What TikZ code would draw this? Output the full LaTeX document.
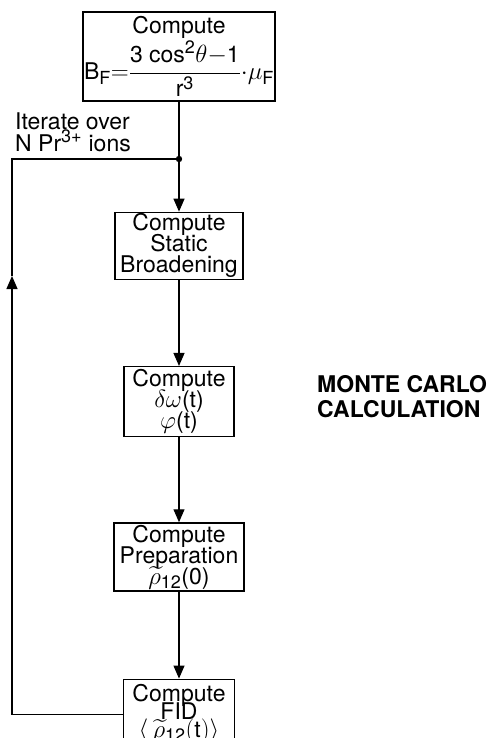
\documentclass[tikz,border=0pt]{standalone}
\usepackage{amsmath}
\usepackage{fontspec}
\setmainfont{TeX Gyre Heros}
\DeclareMathSizes{23}{23}{18}{14}
\usetikzlibrary{arrows.meta,positioning}
\newcommand\tightlines{\lineskiplimit=-20pt\relax}

\begin{document}
\begin{tikzpicture}[x=1pt, y=-1pt,
    node distance=86pt,
    proc/.style={draw, rectangle, line width=1.3pt, align=center,
                 inner sep=1pt, font={\fontsize{23}{21}\selectfont\tightlines}},
    arr/.style={-{Triangle[length=13pt,width=11pt]}, line width=1.2pt},
    loopline/.style={line width=1.2pt},
  ]
    \useasboundingbox (0,0) rectangle (490,738);

    \node[proc, minimum width=182pt, minimum height=89pt] (A) at (179,56.5)
      {Compute\\[1pt]
       $\text{B}_{\text{F}}{=}\dfrac{\text{3 cos}^{\text{2}}\theta{-}\text{1}}{\text{r}^{\text{3}}}{\cdot}\mu_{\text{F}}$};
    \node[proc, minimum width=128pt, minimum height=67pt, below=110pt of A] (B)
      {Compute\\Static\\Broadening};
    \node[proc, minimum width=110pt, minimum height=70pt, below=of B] (C)
      {Compute\\$\delta\omega$(t)\\$\varphi$(t)};
    \node[proc, minimum width=130pt, minimum height=68pt, below=85pt of C] (D)
      {Compute\\Preparation\\$\widetilde{\rho}_{\text{12}}$(0)};
    \node[proc, minimum width=111pt, minimum height=70pt, below=87pt of D,
          font={\fontsize{23}{18}\selectfont\tightlines}] (E)
      {Compute\\FID\\$\langle\,\widetilde{\rho}_{\text{12}}(\text{t})\rangle$};

    \node[anchor=west, align=left, inner sep=0pt,
          font={\fontsize{23}{22}\selectfont\tightlines}] (it) at (15,132)
      {Iterate over\\N Pr$^{\text{3+}}$ ions};
    \node[anchor=west, align=left, inner sep=0pt,
          font=\fontsize{23}{25}\bfseries] (mc) at (317,397)
      {MONTE CARLO\\CALCULATION};

    \coordinate (J) at (A.south |- 0,159);
    \coordinate (L) at (12,159);
    \coordinate (M) at (12,276);

    \draw[loopline] (A) -- (J);
    \fill (J) circle (3.2pt);
    \draw[arr] (J) -- (B);
    \draw[arr] (B) -- (C);
    \draw[arr] (C) -- (D);
    \draw[arr] (D) -- (E);
    \draw[arr] (E.west) -| (M);
    \draw[loopline] (M) -- (L) -- (J);
\end{tikzpicture}
\end{document}
